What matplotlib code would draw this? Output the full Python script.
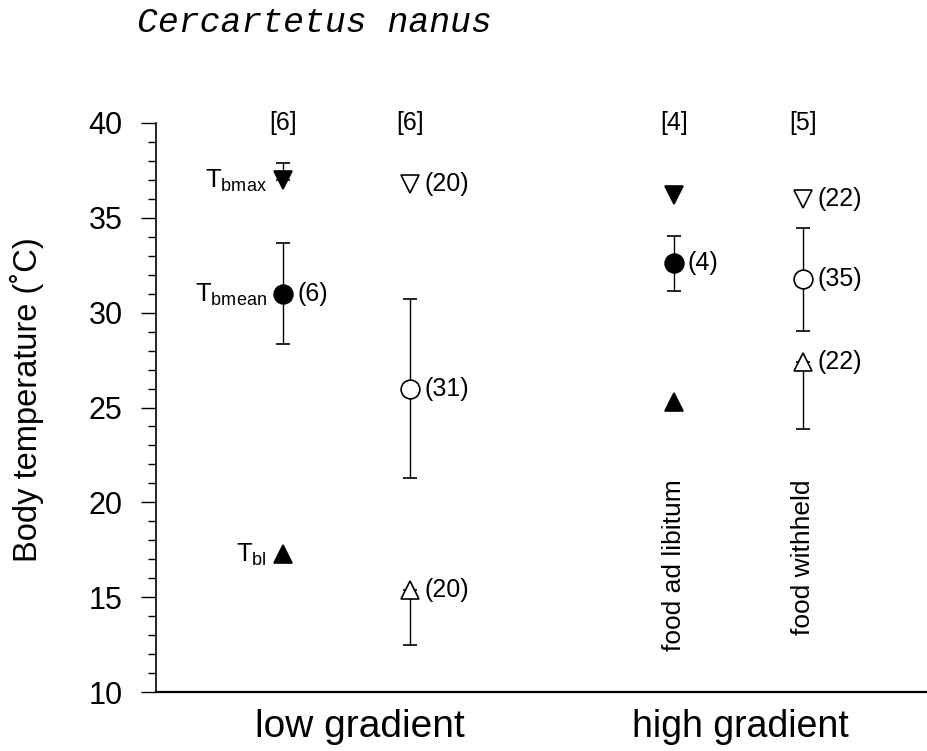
import numpy as np
import matplotlib
matplotlib.use("Agg")
import matplotlib.pyplot as plt
from matplotlib.ticker import MultipleLocator

plt.rcParams["font.family"] = ["Liberation Sans", "DejaVu Sans"]
plt.rcParams["mathtext.fontset"] = "custom"
plt.rcParams["mathtext.rm"] = "Liberation Sans"
plt.rcParams["mathtext.it"] = "Liberation Sans:italic"

# Data
groups = ["low gradient", "high gradient"]
conditions = ["food ad libitum", "food withheld"]
xpos = [1.0, 2.0, 4.07, 5.09]          # ad lib / withheld, low then high gradient
n_animals = ["[6]", "[6]", "[4]", "[5]"]
filled = [True, False, True, False]

tb_max = [37.0, 36.8, 36.2, 36.0]
tb_max_err = [0.9, 0.0, 0.0, 0.0]
tb_max_n = ["", "(20)", "", "(22)"]

tb_mean = [31.0, 26.0, 32.6, 31.75]
tb_mean_err = [2.65, 4.7, 1.45, 2.7]
tb_mean_n = ["(6)", "(31)", "(4)", "(35)"]

tb_min = [17.3, 15.4, 25.3, 27.4]
tb_min_err = [0.0, 2.9, 0.0, 3.55]
tb_min_n = ["", "(20)", "", "(22)"]

fig = plt.figure(figsize=(9.28, 7.51), dpi=100)
ax = fig.add_axes([156 / 928, 1 - 692 / 751, 1 - 156 / 928, (692 - 123) / 751])

ebkw = dict(color="black", ecolor="black", elinewidth=1.0, capsize=5, capthick=1.0,
            mec="black", mew=1.2, linestyle="none")

for i, x in enumerate(xpos):
    fc = "black" if filled[i] else "white"
    # maximum: only upper bar
    ax.errorbar([x], [tb_max[i]], yerr=[[0], [tb_max_err[i]]] if tb_max_err[i] > 0 else None,
                marker="v", ms=13, mfc=fc, **ebkw)
    # mean: symmetric bar
    ax.errorbar([x], [tb_mean[i]], yerr=[tb_mean_err[i]], marker="o", ms=13.5, mfc=fc, **ebkw)
    # minimum: only lower bar
    ax.errorbar([x], [tb_min[i]], yerr=[[tb_min_err[i]], [0]] if tb_min_err[i] > 0 else None,
                marker="^", ms=13, mfc=fc, **ebkw)

    for yv, lab in [(tb_max[i], tb_max_n[i]), (tb_mean[i], tb_mean_n[i]), (tb_min[i], tb_min_n[i])]:
        if lab:
            ax.annotate(lab, (x, yv), xytext=(10, 0), textcoords="offset points",
                        ha="left", va="center", fontsize=18)
    ax.text(x, 40, n_animals[i], ha="center", va="center", fontsize=18, clip_on=False)

# names of the variables next to the first column
for yv, lab in [(tb_max[0], r"$\mathrm{T_{bmax}}$"), (tb_mean[0], r"$\mathrm{T_{bmean}}$"),
                (tb_min[0], r"$\mathrm{T_{bl}}$")]:
    ax.annotate(lab, (xpos[0], yv), xytext=(-12, -1), textcoords="offset points",
                ha="right", va="center", fontsize=18.5)

ax.text(xpos[2], 21.2, conditions[0], rotation=90, ha="center", va="top", fontsize=19)
ax.text(xpos[3], 21.2, conditions[1], rotation=90, ha="center", va="top", fontsize=19)

ax.set_xlim(0, 6.07)
ax.set_ylim(10, 40)
ax.yaxis.set_major_locator(MultipleLocator(5))
ax.yaxis.set_minor_locator(MultipleLocator(1))
ax.tick_params(axis="y", which="major", length=11, width=1.0, labelsize=22, pad=13)
ax.tick_params(axis="y", which="minor", length=6, width=1.0)
ax.tick_params(axis="x", bottom=False, labelbottom=False)
ax.spines["top"].set_visible(False)
ax.spines["right"].set_visible(False)
ax.spines["left"].set_linewidth(1.2)
ax.spines["bottom"].set_linewidth(1.6)

fig.text(27 / 928, 1 - 400 / 751, "Body temperature (\u02daC)", rotation=90,
         ha="center", va="center", fontsize=23.5)
fig.text(360 / 928, 1 - 737 / 751, groups[0], ha="center", va="baseline", fontsize=28)
fig.text(740 / 928, 1 - 737 / 751, groups[1], ha="center", va="baseline", fontsize=27)

fig.text(137 / 928, 1 - 32 / 751, "Cercartetus nanus", family="Liberation Mono",
         style="italic", fontsize=25, va="baseline")

fig.savefig("out.png", dpi=100)
